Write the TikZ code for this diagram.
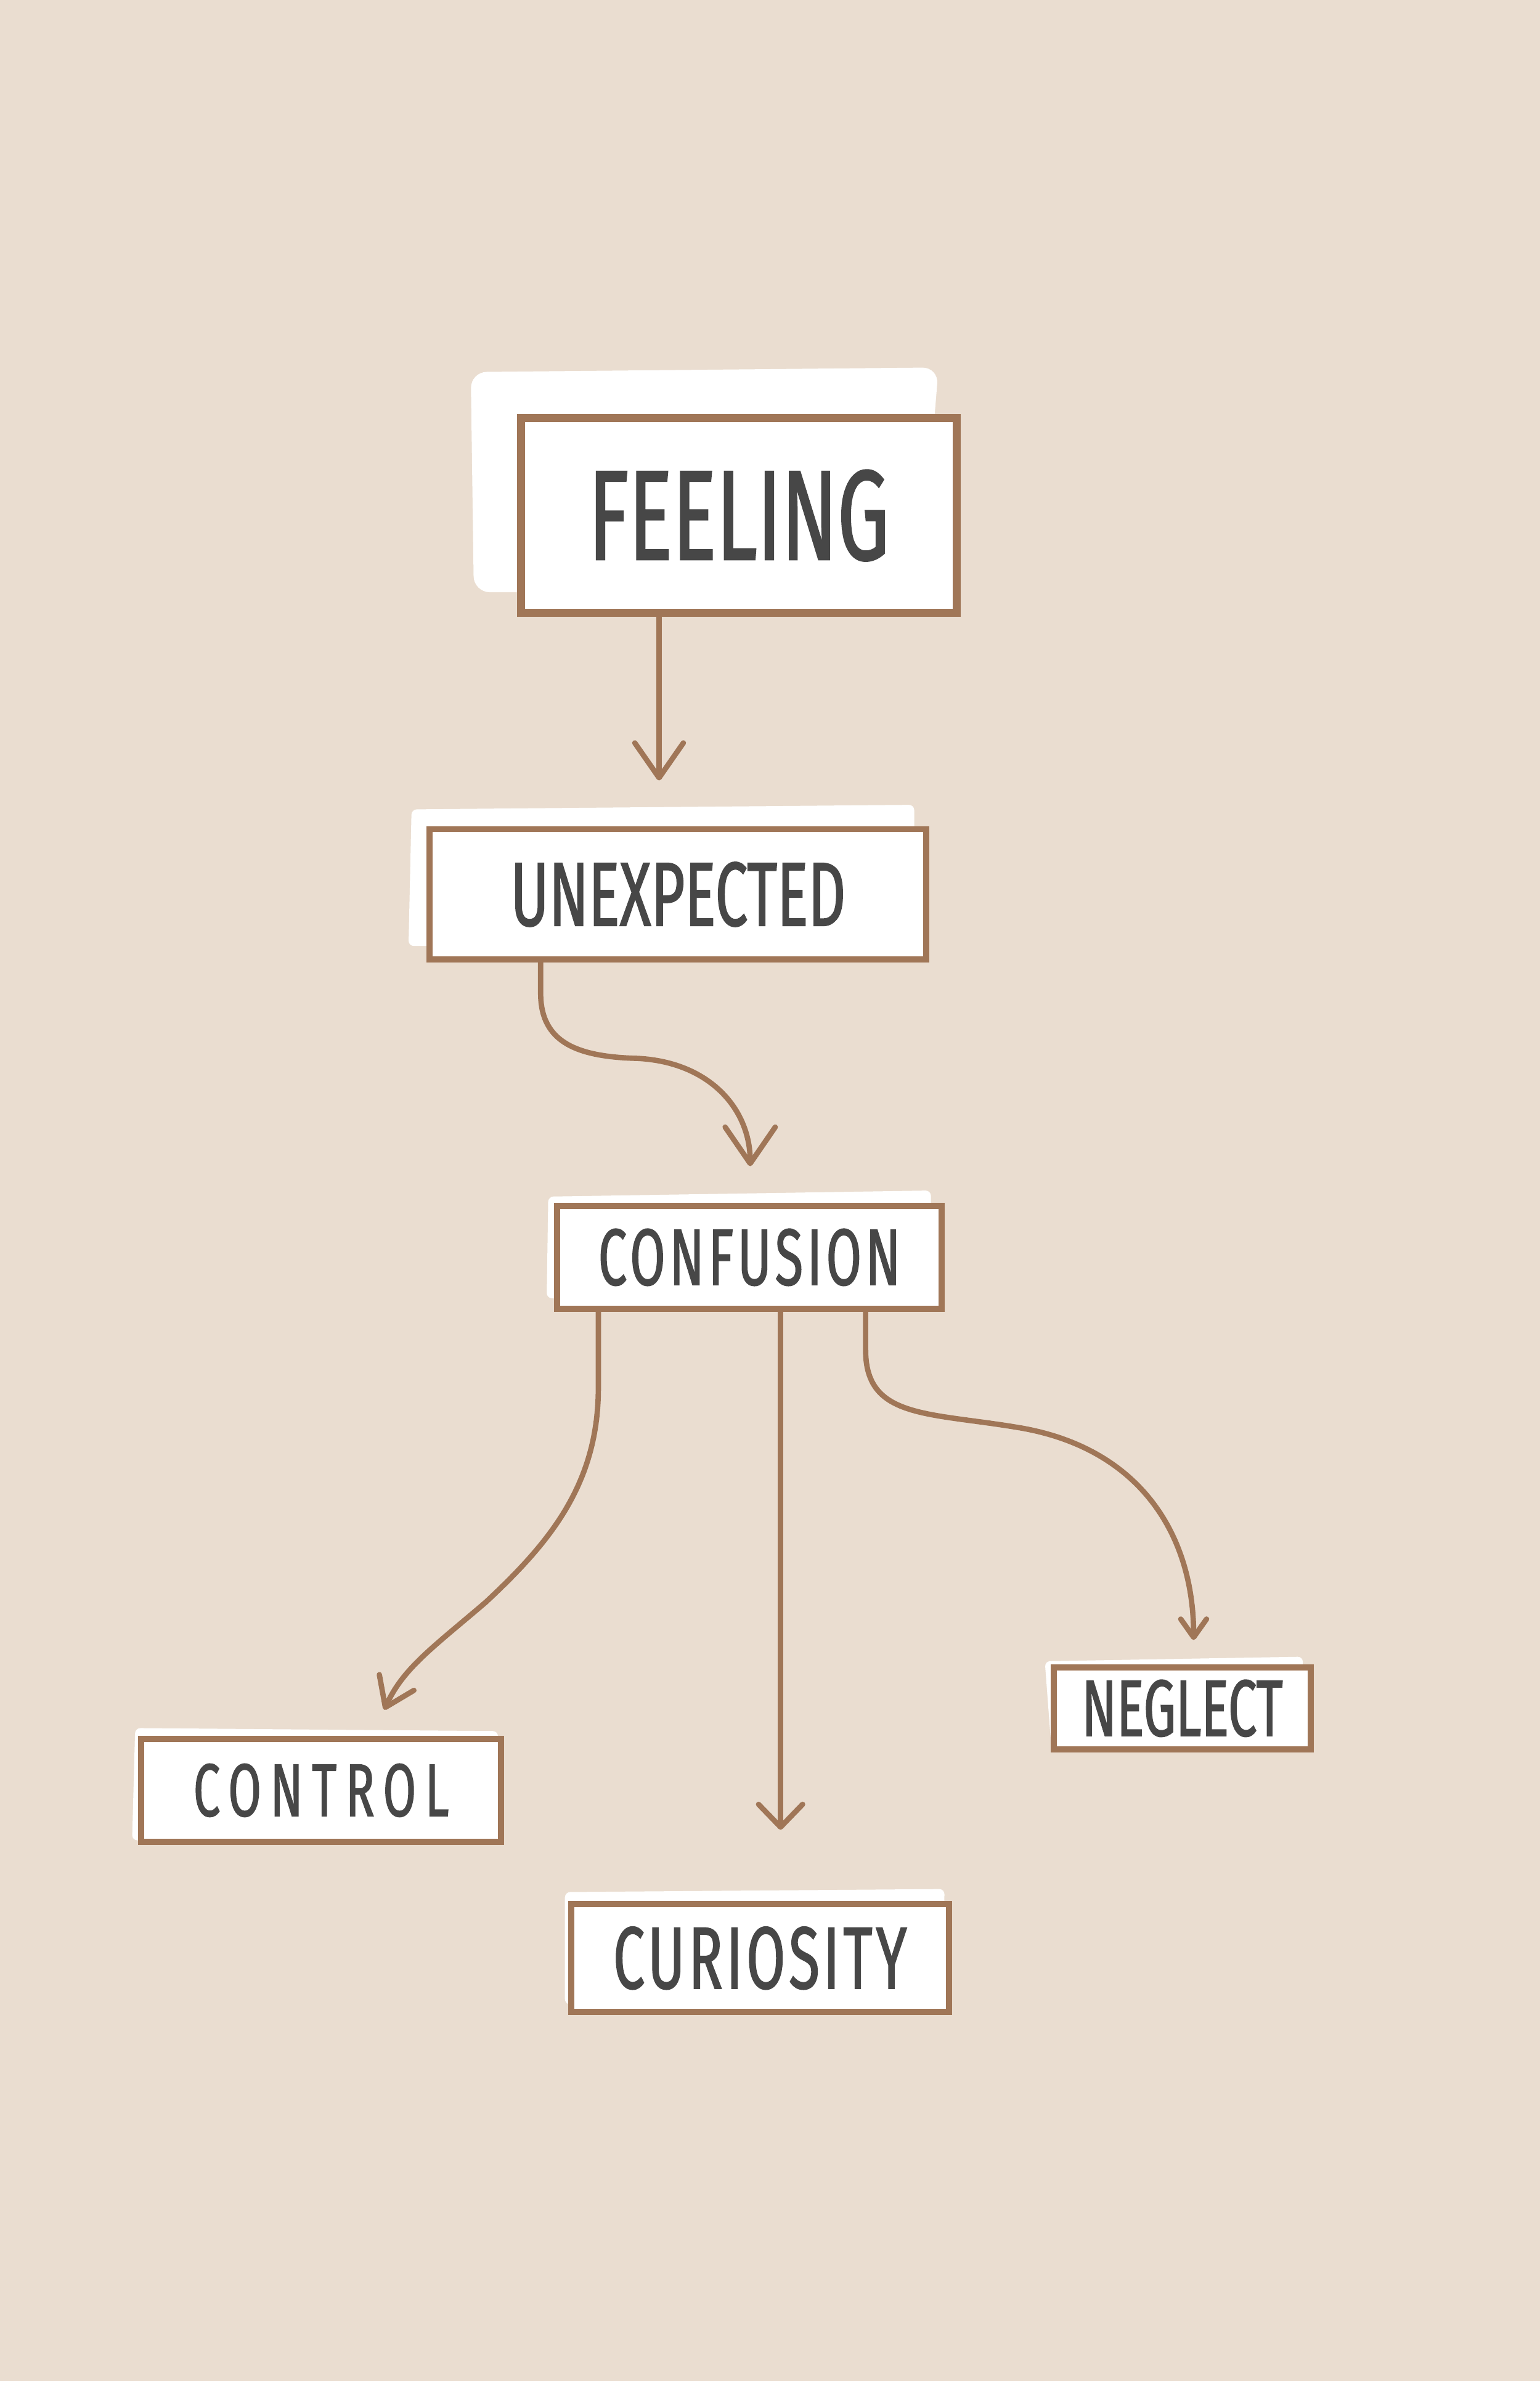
\documentclass[tikz,border=0pt]{standalone}
\usepackage{fontspec}
\newfontfamily\handfont[FakeStretch=0.64,FakeBold=1.2]{Fira Sans}
\usetikzlibrary{arrows.meta,calc,positioning}
\definecolor{paper}{HTML}{EADDD0}
\definecolor{framebrown}{HTML}{A07657}
\definecolor{ink}{HTML}{474747}

\tikzset{
  wordbox/.style={draw=framebrown,fill=white,line width=2.3pt,text=ink,inner sep=0pt},
  backcard/.style={fill=white,rounded corners=2pt},
  link/.style={framebrown,line width=2pt,line cap=round},
}

\begin{document}
\begin{tikzpicture}
\useasboundingbox (0,0) rectangle (20.28,-31.36);
\fill[paper] (0,0) rectangle (20.28,-31.36);
% white cards behind the frames
\fill[backcard,rounded corners=6pt] (6.2,-4.9) -- (12.36,-4.84) -- (12.12,-7.8) -- (6.24,-7.8) -- cycle;
\fill[backcard] (5.42,-10.66) -- (12.04,-10.6) -- (12.04,-12.42) -- (5.38,-12.46) -- cycle;
\fill[backcard] (7.22,-15.76) -- (12.26,-15.68) -- (12.26,-17.04) -- (7.2,-17.1) -- cycle;
\fill[backcard] (1.78,-22.76) -- (6.56,-22.8) -- (6.52,-24.14) -- (1.74,-24.24) -- cycle;
\fill[backcard] (7.44,-24.92) -- (12.44,-24.88) -- (12.4,-26.36) -- (7.44,-26.4) -- cycle;
\fill[backcard] (13.76,-21.88) -- (17.16,-21.82) -- (17.12,-22.9) -- (13.84,-22.94) -- cycle;
% words
\node[wordbox,line width=3pt,minimum width=5.74cm,minimum height=2.56cm,font=\handfont\fontsize{48}{48}\selectfont] (feeling) at (9.73,-6.79) {FEELING};
\node[wordbox,minimum width=6.54cm,minimum height=1.72cm,font=\handfont\fontsize{34}{34}\selectfont] (unexpected) at (8.93,-11.78) {UNEXPECTED};
\node[wordbox,minimum width=5.06cm,minimum height=1.36cm,font=\handfont\fontsize{30}{30}\selectfont\addfontfeature{LetterSpace=5}] (confusion) at (9.87,-16.56) {CONFUSION};
\node[wordbox,minimum width=4.74cm,minimum height=1.36cm,font=\handfont\fontsize{28}{28}\selectfont\addfontfeature{LetterSpace=12}] (control) at (4.23,-23.58) {CONTROL};
\node[wordbox,minimum width=4.98cm,minimum height=1.42cm,font=\handfont\fontsize{33}{33}\selectfont\addfontfeature{LetterSpace=4}] (curiosity) at (10.01,-25.79) {CURIOSITY};
\node[wordbox,minimum width=3.38cm,minimum height=1.08cm,font=\handfont\fontsize{30}{30}\selectfont] (neglect) at (15.57,-22.5) {NEGLECT};
% arrows
\draw[link,-{Straight Barb[length=4.6mm,width=6.4mm,round]},shorten >=0.6cm] ([xshift=-1.05cm]feeling.south) -- ([xshift=-1.05cm]feeling.south |- unexpected.north);
\draw[link,-{Straight Barb[length=4.8mm,width=6.6mm,round]}] ([xshift=-1.81cm]unexpected.south) -- ++(0,-0.4)
  .. controls +(0,-0.65) and +(-0.8,0.02) .. (8.4,-13.94)
  .. controls +(0.95,-0.05) and +(0,0.75) .. ([xshift=0.01cm,yshift=0.48cm]confusion.north);
\draw[link,-{Straight Barb[length=3.6mm,width=5mm,round]}] ([xshift=-1.99cm]confusion.south) -- ++(0,-1)
  .. controls +(0,-1.3) and +(0.8,0.75) .. (6.4,-21.1)
  .. controls +(-0.7,-0.6) and +(0.25,0.55) .. ([xshift=0.83cm,yshift=0.34cm]control.north);
\draw[link,-{Straight Barb[length=3mm,width=5.8mm,round]},shorten >=0.94cm] ([xshift=0.41cm]confusion.south) -- ([xshift=0.41cm]confusion.south |- curiosity.north);
\draw[link,-{Straight Barb[length=2.4mm,width=3.4mm,round]}] ([xshift=1.53cm]confusion.south) -- ++(0,-0.5)
  .. controls +(0,-0.9) and +(-1.2,0.2) .. (13.4,-18.8)
  .. controls +(1.6,-0.26) and +(0,1.4) .. ([xshift=0.15cm,yshift=0.32cm]neglect.north);
\end{tikzpicture}
\end{document}
